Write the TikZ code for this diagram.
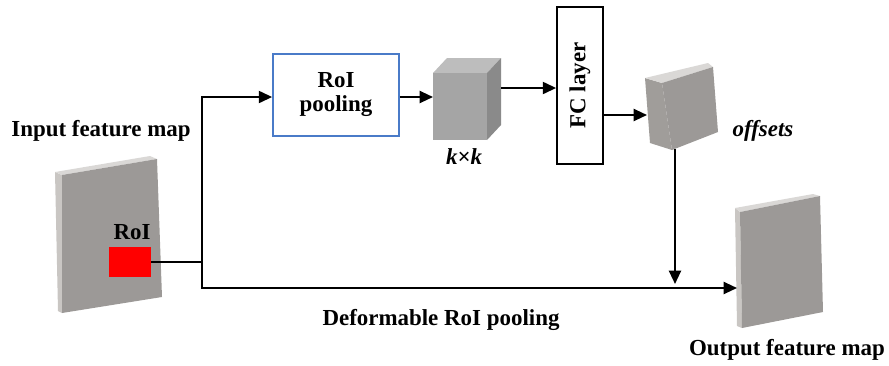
\documentclass[tikz,border=0pt]{standalone}
\usepackage{fontspec}
\setmainfont{Liberation Serif}
\usetikzlibrary{arrows.meta,calc}
\definecolor{slabfront}{HTML}{9C9997}
\definecolor{slabside}{HTML}{C9C6C3}
\definecolor{slabtop}{HTML}{DAD8D6}
\definecolor{offside}{HTML}{A09D9A}
\definecolor{cubefront}{HTML}{A5A5A5}
\definecolor{cubetop}{HTML}{BDBDBD}
\definecolor{cuberight}{HTML}{8A8A8A}
\definecolor{poolblue}{HTML}{4A7BC8}
\tikzset{
  lbl/.style={font=\fontsize{17.2}{20}\selectfont\bfseries, inner sep=0pt},
  flow/.style={line width=1.6pt, -{Triangle[length=10pt,width=9pt]}},
  wire/.style={line width=1.6pt},
  box/.style={draw, line width=1.3pt, fill=white, align=center, font=\fontsize{17.2}{20}\selectfont\bfseries}
}
\begin{document}
\begin{tikzpicture}[x=0.75pt, y=-0.75pt]
\useasboundingbox (0,0) rectangle (889,365);

% input feature map slab
\fill[slabside] (55,172) -- (62,175) -- (62,313) -- (58,311) -- cycle;
\fill[slabtop] (55,172) -- (150,156) -- (157,159) -- (62,175) -- cycle;
\fill[slabfront] (62,175) -- (157,159) -- (162,297) -- (62,313) -- cycle;
\node[lbl] (inlbl) at (101,131) {Input feature map};
\node[fill=red, minimum width=31.5pt, minimum height=23pt, inner sep=0pt] (roi) at (130,262) {};
\node[lbl] (roilbl) at (132,232) {RoI};

% branch point and bypass
\coordinate (split) at (202,262);
\coordinate (up) at (202,97);
\coordinate (down) at (202,288);

% RoI pooling box
\node[box, draw=poolblue, minimum width=94.5pt, minimum height=61.5pt] (pool) at (336,95) {RoI\\[-2pt]pooling};

% k x k cube
\fill[cubetop] (433,73) -- (447,58) -- (501,58) -- (487,73) -- cycle;
\fill[cuberight] (487,73) -- (501,58) -- (501,125) -- (487,140) -- cycle;
\fill[cubefront] (433,73) rectangle (487,140);
\coordinate (cubeL) at (433,97);
\coordinate (cubeR) at (501,88);
\node[lbl] (klbl) at (464,157) {\itshape k×k};

% FC layer
\node[box, draw=black, minimum width=34.5pt, minimum height=117.75pt] (fc) at (580,85.5) {};
\node[lbl, rotate=90] (fclbl) at (fc.center) {FC layer};

% offsets slab
\fill[offside] (645,78) -- (662,83) -- (672,150) -- (650,143) -- cycle;
\fill[slabtop] (645,78) -- (708,63) -- (713,67) -- (662,83) -- cycle;
\fill[slabfront] (662,83) -- (713,67) -- (718,132) -- (672,150) -- cycle;
\coordinate (offL) at (647,115);
\coordinate (offB) at (675,149);
\node[lbl] (offlbl) at (763,131) {\itshape offsets};

% output feature map slab
\fill[slabside] (735,208) -- (740,212) -- (742,328) -- (737,326) -- cycle;
\fill[slabtop] (735,208) -- (813,194) -- (820,196) -- (740,212) -- cycle;
\fill[slabfront] (740,212) -- (820,196) -- (823,312) -- (742,328) -- cycle;
\coordinate (outL) at (737,288);
\coordinate (merge) at (675,288);
\node[lbl] (outlbl) at (787,350) {Output feature map};
\node[lbl] (deflbl) at (441,320) {Deformable RoI pooling};

% connectors
\draw[wire] (roi.east) -- (split);
\draw[flow] (down) -- (up) -- (pool.west |- up);
\draw[flow] (split) -- (down) -- (outL);
\draw[flow] (pool.east |- cubeL) -- (cubeL);
\draw[flow] (cubeR) -- (fc.west |- cubeR);
\draw[flow] (fc.east |- offL) -- (offL);
\draw[flow] (offB) -- ($(merge)+(0,-4)$);
\end{tikzpicture}
\end{document}
